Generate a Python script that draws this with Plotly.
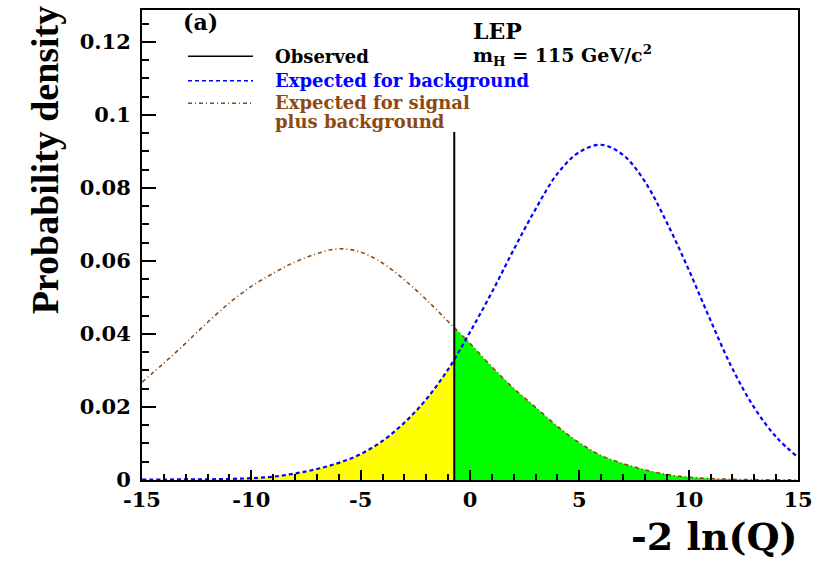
import plotly.graph_objects as go

# ---- data ----
x_vals = [-15, -14, -13, -12, -11, -10, -9, -8, -7, -6, -5, -4, -3, -2, -1,
          0, 1, 2, 3, 4, 5, 6, 7, 8, 9, 10, 11, 12, 13, 14, 15]
bkg_vals = [0.0001, 0.0001, 0.0002, 0.0002, 0.0003, 0.0005, 0.0009, 0.0018, 0.0030,
            0.0047, 0.0071, 0.0107, 0.0157, 0.0221, 0.0303,
            0.0405, 0.0514, 0.0631, 0.0742, 0.0839, 0.0898, 0.0918, 0.0890, 0.0817,
            0.0705, 0.0576, 0.0437, 0.0305, 0.0198, 0.0118, 0.0062]
sb_vals = [0.0268, 0.0320, 0.0375, 0.0432, 0.0485, 0.0530, 0.0566, 0.0597, 0.0620,
           0.0633, 0.0624, 0.0594, 0.0548, 0.0494, 0.0434,
           0.0374, 0.0310, 0.0251, 0.0199, 0.0147, 0.0102, 0.0067, 0.0045, 0.0028,
           0.0015, 0.0008, 0.0004, 0.0002, 0.0001, 0.00005, 0.00002]
obs_x = -0.72
obs_top = 0.0953
bkg_at_obs = 0.0331
sb_at_obs = 0.0416

x_ticks = [-15, -10, -5, 0, 5, 10, 15]
x_ticktext = ["-15", "-10", "-5", "0", "5", "10", "15"]
y_ticks = [0, 0.02, 0.04, 0.06, 0.08, 0.1, 0.12]
y_ticktext = ["0", "0.02", "0.04", "0.06", "0.08", "0.1", "0.12"]

BLUE = "#0000ff"
BROWN = "#8c4a12"
FONT = "DejaVu Serif"

# fill regions built from the read values
left_x = [x for x in x_vals if x < obs_x] + [obs_x]
left_y = [y for x, y in zip(x_vals, bkg_vals) if x < obs_x] + [bkg_at_obs]
right_x = [obs_x] + [x for x in x_vals if x > obs_x]
right_y = [sb_at_obs] + [y for x, y in zip(x_vals, sb_vals) if x > obs_x]

fig = go.Figure()
fig.add_trace(go.Scatter(x=left_x, y=left_y, mode="lines", fill="tozeroy",
                         fillcolor="#ffff00", line=dict(width=0, color="#ffff00", shape="spline"),
                         hoverinfo="skip", showlegend=False))
fig.add_trace(go.Scatter(x=right_x, y=right_y, mode="lines", fill="tozeroy",
                         fillcolor="#00ff00", line=dict(width=0, color="#00ff00", shape="spline"),
                         hoverinfo="skip", showlegend=False))
fig.add_trace(go.Scatter(x=x_vals, y=sb_vals, mode="lines",
                         line=dict(color=BROWN, width=1.6, dash="4px,3px,1px,3px", shape="spline"),
                         name="Expected for signal plus background", showlegend=False))
fig.add_trace(go.Scatter(x=x_vals, y=bkg_vals, mode="lines",
                         line=dict(color=BLUE, width=2.2, dash="4px,3px", shape="spline"),
                         name="Expected for background", showlegend=False))
fig.add_trace(go.Scatter(x=[obs_x, obs_x], y=[0, obs_top], mode="lines",
                         line=dict(color="black", width=2), name="Observed", showlegend=False))

L, R, T, B = 142, 25, 8, 81
W, H = 823, 561
pw, ph = W - L - R, H - T - B


def px(xp):
    return (xp - L) / pw


def py(yp):
    return (H - B - yp) / ph


# custom legend
shapes = [
    dict(type="line", xref="paper", yref="paper", x0=px(188), x1=px(253), y0=py(54.5), y1=py(54.5),
         line=dict(color="black", width=1.5)),
    dict(type="line", xref="paper", yref="paper", x0=px(188), x1=px(253), y0=py(79), y1=py(79),
         line=dict(color=BLUE, width=1.5, dash="4px,3px")),
    dict(type="line", xref="paper", yref="paper", x0=px(188), x1=px(253), y0=py(101.7), y1=py(101.7),
         line=dict(color=BROWN, width=1.5, dash="4px,3px,1px,3px")),
]


def ann(text, xp, yp, size, color="black", xanchor="left", family=FONT, angle=0):
    return dict(text=text, x=px(xp), y=py(yp), xref="paper", yref="paper",
                xanchor=xanchor, yanchor="middle", showarrow=False, textangle=angle,
                font=dict(family=family, size=size, color=color, weight="bold"))


annotations = [
    ann("Observed", 273, 55, 18),
    ann("Expected for background", 273, 79, 18, BLUE),
    ann("Expected for signal", 273, 101, 18, BROWN),
    ann("plus background", 273, 120, 18, BROWN),
    ann("(a)", 181, 20, 22),
    ann("LEP", 471, 29, 22),
    ann("m<sub>H</sub> = 115 GeV/c<sup>2</sup>", 471, 54, 19),
    ann("Probability density", 45, 159, 38, family="Liberation Serif", xanchor="center", angle=-90),
    ann("-2 ln(Q)", 800, 537, 38, xanchor="right"),
]

fig.update_layout(
    width=W, height=H,
    margin=dict(l=L, r=R, t=T, b=B),
    paper_bgcolor="white", plot_bgcolor="white",
    shapes=shapes, annotations=annotations,
    showlegend=False,
    xaxis=dict(range=[-15, 15], tickvals=x_ticks, ticktext=x_ticktext,
               ticks="inside", ticklen=10, tickwidth=2, tickcolor="black",
               minor=dict(dtick=1, ticks="inside", ticklen=6, tickwidth=1.5, tickcolor="black"),
               showgrid=False, zeroline=False, showline=True, linecolor="black", linewidth=2,
               mirror=True,
               tickfont=dict(family=FONT, size=21, color="black", weight="bold")),
    yaxis=dict(range=[0, 0.1287], tickvals=y_ticks, ticktext=y_ticktext,
               ticks="inside", ticklen=14, tickwidth=1.5, tickcolor="black",
               minor=dict(dtick=0.005, tick0=0, ticks="inside", ticklen=7, tickwidth=1.5, tickcolor="black"),
               showgrid=False, zeroline=False, showline=True, linecolor="black", linewidth=2,
               mirror=True, ticklabelstandoff=5,
               tickfont=dict(family=FONT, size=21, color="black", weight="bold")),
)

fig.write_html("out.html",
               config={"displayModeBar": False},
               post_script="document.body.style.margin='0';document.body.style.overflow='hidden';")
